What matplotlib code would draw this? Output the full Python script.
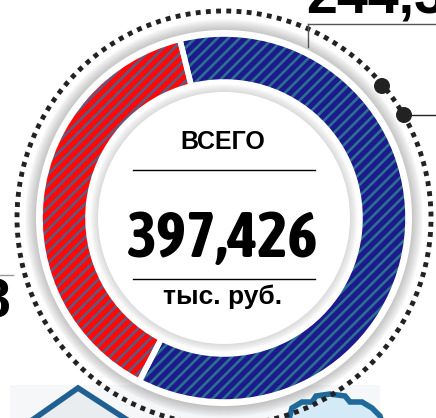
import matplotlib.pyplot as plt
from matplotlib import font_manager
from matplotlib.patches import Circle, Polygon

# values, thousand rubles
labels = ["blue", "red"]
values = [244.346, 153.080]
total_text = "397,426"
title_text = "ВСЕГО"
unit_text = "тыс. руб."
side_texts = ["244,346", "153,08"]

face_colors = ["#1c1a8c", "#ff0808"]
stripe_colors = ["#2b7090", "#5c5a80"]

W, H = 436, 418
cx, cy = 224, 200

plt.rcParams['hatch.linewidth'] = 1.9


def wnum(w):
    if isinstance(w, str):
        return font_manager.weight_dict.get(w, 400)
    return w


# condensed bold face if there is one, else plain Liberation Sans
cond = sorted({f.name for f in font_manager.fontManager.ttflist
               if ('Narrow' in f.name or 'Condensed' in f.name)
               and wnum(f.weight) >= 600})
narrow = cond[:1] + ['Liberation Sans', 'DejaVu Sans']
wide = ['Liberation Sans', 'DejaVu Sans']
k = 1.0 if cond else 0.8  # shrink plain font to keep the width

fig = plt.figure(figsize=(W / 100, H / 100), dpi=100)
ax = fig.add_axes([0, 0, 1, 1])

# bottom decorations (partly visible pictures)
ax.add_patch(Polygon([(10, 0), (10, 33), (380, 33), (380, 0)], closed=True,
                     facecolor="#f6f7f8", edgecolor="none", zorder=0))
ax.add_patch(Polygon([(28, -5), (78, 30), (132, -5)], closed=False,
                     facecolor="#e9edef", edgecolor="#1f5f92", lw=4, zorder=0.5))
gear = [(288, -5), (292, 10), (302, 16), (312, 16), (316, 22), (330, 24),
        (345, 22), (350, 16), (362, 16), (372, 10), (380, 2), (382, -5)]
ax.add_patch(Polygon(gear, closed=False, facecolor="#d4eaf6",
                     edgecolor="#1f6a9a", lw=4, zorder=0.5))

# outer white disk with soft shadow
for r in range(199, 188, -1):
    ax.add_patch(Circle((cx, cy), r, facecolor="#707070", edgecolor="none",
                        alpha=0.04, zorder=1))
ax.add_patch(Circle((cx, cy), 188, facecolor="white", edgecolor="none", zorder=1))

# ring
start = 103.9
wedges, _ = ax.pie(values, colors=face_colors, radius=184, center=(cx, cy),
                   startangle=start, counterclock=False, frame=True,
                   wedgeprops=dict(width=48, linewidth=0))
for w, sc in zip(wedges, stripe_colors):
    w.set_hatch("///")
    w.set_edgecolor(sc)
    w.set_linewidth(0)
    w.set_zorder(2)
gaps, _ = ax.pie(values, colors=["none", "none"], radius=184, center=(cx, cy),
                 startangle=start, counterclock=False, frame=True,
                 wedgeprops=dict(width=48, linewidth=4, edgecolor="white"))
for g in gaps:
    g.set_zorder(2.5)

# inner disk with shadow
for r in range(134, 125, -1):
    ax.add_patch(Circle((cx, cy), r, facecolor="#808080", edgecolor="none",
                        alpha=0.035, zorder=3))
ax.add_patch(Circle((cx, cy), 126, facecolor="white", edgecolor="none", zorder=3))

# center texts
ax.text(223, 269, title_text, ha='center', va='baseline', fontsize=18,
        fontweight='bold', family=wide, zorder=4)
ax.plot([133, 315], [248, 248], color="black", lw=1, zorder=4)
ax.text(223, 161, total_text, ha='center', va='baseline', fontsize=46 * k,
        fontweight='bold', family=narrow, zorder=4)
ax.plot([133, 315], [139, 139], color="black", lw=1, zorder=4)
ax.text(223, 114, unit_text, ha='center', va='baseline', fontsize=19,
        fontweight='bold', family=wide, zorder=4)

# dotted frame circle
ax.add_patch(Circle((cx, cy), 207, facecolor="none", edgecolor="#222222",
                    lw=3.5, linestyle=(0, (1, 1.1)), zorder=5))
ax.add_patch(Circle((382, 332), 8, facecolor="#222222", edgecolor="none", zorder=6))
ax.add_patch(Circle((404, 303), 8, facecolor="#222222", edgecolor="none", zorder=6))

# callouts
ax.plot([404, W], [303, 303], color="#222222", lw=1, zorder=6)
ax.plot([308, W], [394, 394], color="#555555", lw=1, zorder=6)
ax.plot([308, 308], [394, 371], color="#555555", lw=1, zorder=6)
ax.plot([0, 13], [143, 143], color="#999999", lw=1, zorder=6)
ax.text(306, 404, side_texts[0], ha='left', va='baseline', fontsize=40,
        fontweight='bold', family=wide, zorder=6)
ax.text(11, 100, side_texts[1], ha='right', va='baseline', fontsize=40,
        fontweight='bold', family=wide, zorder=6)

ax.set_xlim(0, W)
ax.set_ylim(0, H)
ax.set_aspect('auto')
ax.axis('off')

fig.savefig("out.png", dpi=100)
